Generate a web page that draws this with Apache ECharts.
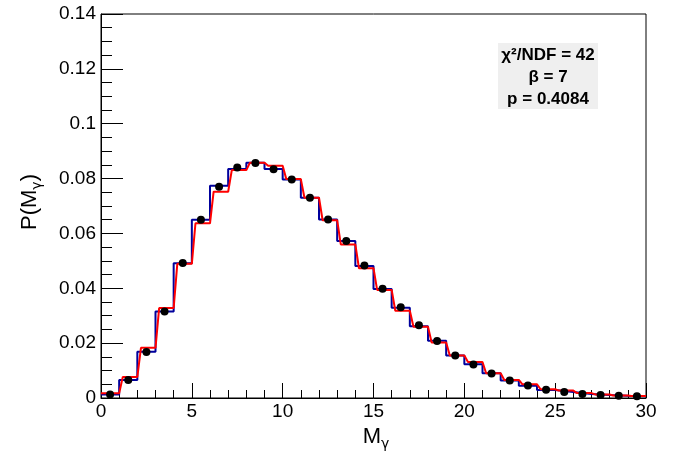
<!DOCTYPE html>
<html>
<head>
<meta charset="utf-8">
<script src="https://cdn.jsdelivr.net/npm/echarts@6/dist/echarts.min.js"></script>
<style>
html,body{margin:0;padding:0;background:#fff;}
#c{width:683px;height:457px;}
</style>
</head>
<body>
<div id="c"></div>
<script>
// bin edges: 0..30, width 1
const binLow = [0,1,2,3,4,5,6,7,8,9,10,11,12,13,14,15,16,17,18,19,20,21,22,23,24,25,26,27,28,29];
const blueHist = [0.0013,0.0066,0.0169,0.0315,0.0491,0.0650,0.0774,0.0835,0.0858,0.0835,0.0797,0.0730,0.0651,0.0572,0.0481,0.0397,0.0329,0.0262,0.0209,0.0155,0.0123,0.0090,0.0064,0.0045,0.0029,0.0022,0.0015,0.0011,0.0008,0.0006];
const redHist  = [0.0017,0.0077,0.0183,0.0328,0.0489,0.0637,0.0752,0.0831,0.0858,0.0847,0.0798,0.0730,0.0648,0.0560,0.0473,0.0394,0.0318,0.0260,0.0202,0.0155,0.0131,0.0090,0.0066,0.0050,0.0032,0.0027,0.0018,0.0013,0.0009,0.0007];
const dataPts  = [0.0013,0.0066,0.0168,0.0315,0.0492,0.0650,0.0770,0.0840,0.0857,0.0834,0.0797,0.0730,0.0651,0.0572,0.0483,0.0398,0.0331,0.0265,0.0208,0.0155,0.0122,0.0089,0.0064,0.0046,0.0030,0.0022,0.0015,0.0011,0.0008,0.0006];
const xTicks = [0,5,10,15,20,25,30];
const yTicks = [0,0.02,0.04,0.06,0.08,0.1,0.12,0.14];
const statLines = ['χ²/NDF = 42','β = 7','p = 0.4084'];

const W = 1;
const bluePath = [];
binLow.forEach((x,i)=>{ bluePath.push([x, blueHist[i]]); bluePath.push([x+W, blueHist[i]]); });
const redPath = [];
binLow.forEach((x,i)=>{
  redPath.push([i===0 ? x : x+0.2*W, redHist[i]]);
  redPath.push([x+W, redHist[i]]);
});
const pts = binLow.map((x,i)=>[x+W/2, dataPts[i]]);

const font = '"Liberation Sans", Arial, Helvetica, sans-serif';
const greek = '"DejaVu Sans", sans-serif';
const chart = echarts.init(document.getElementById('c'));
const statGraphics = [{
  type:'rect', shape:{x:498,y:43,width:100,height:66}, style:{fill:'#efefef'}, silent:true
}];
statLines.forEach((t,i)=>{
  statGraphics.push({type:'text', x:548, y:55+i*22, style:{text:t, font:'bold 17px '+font, fill:'#000', align:'center', verticalAlign:'middle'}});
});
const richT = {
  a:{fontSize:22,fontFamily:font,fill:'#000',lineHeight:22,verticalAlign:'top'},
  b:{fontSize:14,fontFamily:greek,fill:'#000',lineHeight:14,padding:[11,0,0,0],verticalAlign:'top'}
};

chart.setOption({
  animation:false,
  backgroundColor:'#fff',
  grid:{left:101,right:37,top:14,bottom:59,show:true,borderColor:'#000',borderWidth:1,backgroundColor:'transparent'},
  xAxis:{
    type:'value', min:xTicks[0], max:xTicks[xTicks.length-1], interval:5,
    axisLine:{show:true,lineStyle:{color:'#000',width:1}},
    axisTick:{show:true,inside:true,length:15,lineStyle:{color:'#000'}},
    minorTick:{show:true,splitNumber:5,length:8,lineStyle:{color:'#000'}},
    splitLine:{show:false},
    axisLabel:{color:'#000',fontSize:19,fontFamily:font,margin:4,showMinLabel:true,showMaxLabel:true}
  },
  yAxis:{
    type:'value', min:yTicks[0], max:yTicks[yTicks.length-1], interval:0.02,
    axisLine:{show:true,lineStyle:{color:'#000',width:1}},
    axisTick:{show:true,inside:true,length:22,lineStyle:{color:'#000'}},
    minorTick:{show:true,splitNumber:4,length:11,lineStyle:{color:'#000'}},
    splitLine:{show:false},
    axisLabel:{color:'#000',fontSize:19,fontFamily:font,margin:5,formatter:v=>String(parseFloat(v.toFixed(3)))}
  },
  graphic:[
    {type:'text', x:376, y:437, style:{text:'{a|M}{b|γ}', align:'center', verticalAlign:'middle', rich:richT}},
    {type:'text', x:30, y:202, rotation:Math.PI/2, style:{text:'{a|P(M}{b|γ}{a|)}', align:'center', verticalAlign:'middle', rich:richT}},
    ...statGraphics
  ],
  series:[
    {type:'line', data:bluePath, showSymbol:false, lineStyle:{color:'#00009c',width:2}, z:2, clip:true},
    {type:'line', data:redPath, showSymbol:false, lineStyle:{color:'#ff0000',width:2}, z:3, clip:true},
    {type:'scatter', data:pts, symbol:'circle', symbolSize:8, itemStyle:{color:'#000',opacity:1}, z:4}
  ]
});
</script>
</body>
</html>
